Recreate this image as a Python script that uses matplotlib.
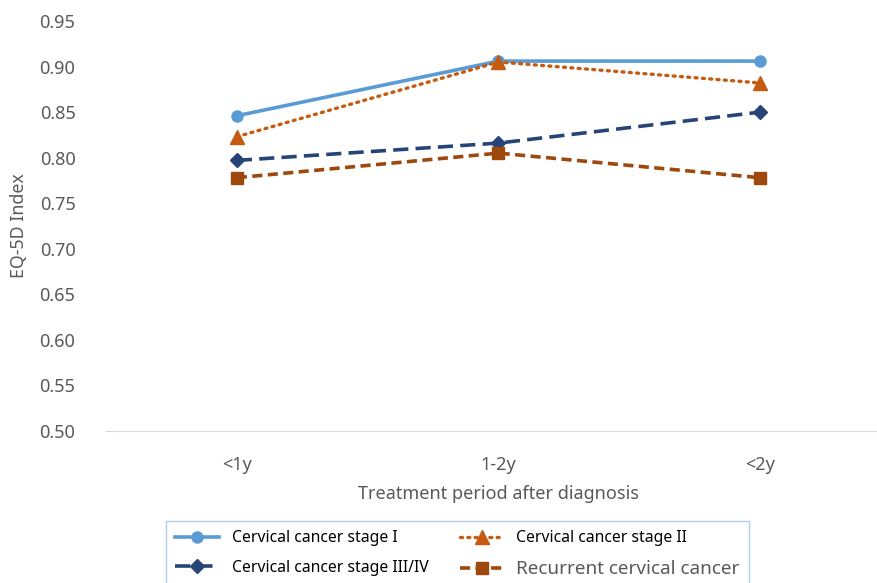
import matplotlib
matplotlib.use("Agg")
import matplotlib.pyplot as plt

categories = ["<1y", "1-2y", "<2y"]
stage_1 = [0.846, 0.906, 0.906]
stage_2 = [0.823, 0.905, 0.882]
stage_3_4 = [0.797, 0.816, 0.850]
recurrent = [0.778, 0.805, 0.778]
y_ticks = [0.50, 0.55, 0.60, 0.65, 0.70, 0.75, 0.80, 0.85, 0.90, 0.95]

plt.rcParams["font.family"] = ["Noto Sans", "DejaVu Sans"]
TEXT = "#595959"

fig = plt.figure(figsize=(8.78, 5.83), dpi=100, facecolor="white")
ax = fig.add_axes([106 / 878, 152 / 583, 785 / 878, 410 / 583])

x = range(len(categories))
ax.plot(x, stage_1, color="#5b9bd5", lw=2.6, marker="o", ms=8,
        label="Cervical cancer stage I")
ax.plot(x, stage_2, color="#c55a11", lw=2.4, ls=(0, (0.6, 1.6)),
        dash_capstyle="round", marker="^", ms=10, label="Cervical cancer stage II")
ax.plot(x, stage_3_4, color="#264478", lw=2.6, ls=(0, (4.2, 2.0)),
        marker="D", ms=7.5, label="Cervical cancer stage III/IV")
ax.plot(x, recurrent, color="#9e480e", lw=2.6, ls=(0, (2.8, 1.5)),
        marker="s", ms=8, label="Recurrent cervical cancer")

ax.set_xlim(-0.5, 2.5)
ax.set_ylim(0.5, 0.95)
ax.set_xticks(list(x))
ax.set_xticklabels(categories)
ax.set_yticks(y_ticks)
ax.set_yticklabels([f"{v:.2f}" for v in y_ticks])
for side in ["top", "right", "left"]:
    ax.spines[side].set_visible(False)
ax.spines["bottom"].set_color("#d9d9d9")
ax.tick_params(length=0, labelsize=13, colors=TEXT)
ax.tick_params(axis="y", pad=22)
ax.tick_params(axis="x", pad=18)
ax.set_ylabel("EQ-5D Index", fontsize=12.8, color=TEXT, labelpad=8)
ax.set_xlabel("Treatment period after diagnosis", fontsize=13, color=TEXT, labelpad=8)

handles, labels = ax.get_legend_handles_labels()
order = [0, 2, 1, 3]
leg = fig.legend([handles[i] for i in order], [labels[i] for i in order],
                 ncol=2, loc="upper left", bbox_to_anchor=(166 / 878, 1 - 521 / 583),
                 borderaxespad=0, fontsize=11.3, frameon=True, fancybox=False,
                 handlelength=2.8, handletextpad=0.8, columnspacing=2.0,
                 borderpad=0.6, labelspacing=0.85)
leg.get_frame().set_edgecolor("#9dc3e6")
leg.get_frame().set_linewidth(1.0)
for t in leg.get_texts():
    t.set_color("black")
leg.get_texts()[3].set_fontsize(13.6)
leg.get_texts()[3].set_color(TEXT)

fig.savefig("out.png", dpi=100, facecolor="white")
